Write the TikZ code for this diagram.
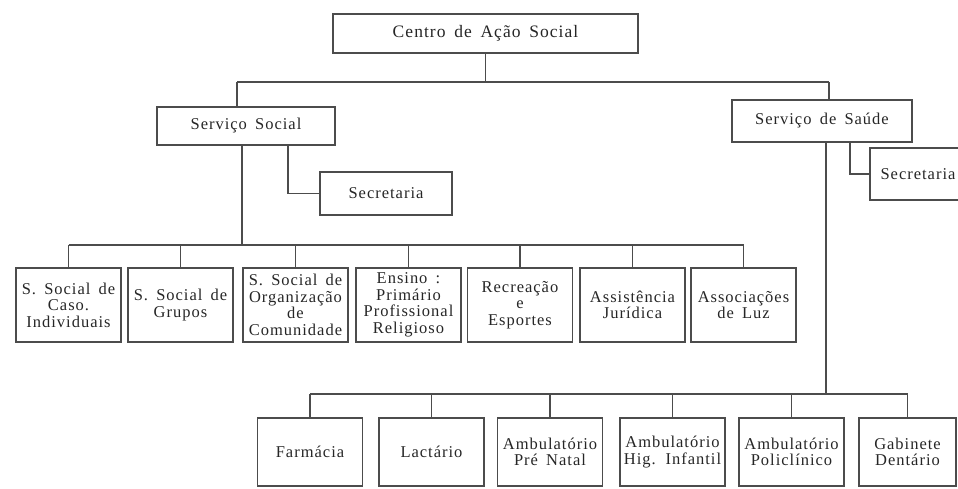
\documentclass[tikz,border=0pt]{standalone}
\usepackage{fontspec}
\setmainfont{Liberation Serif}[LetterSpace=6, WordSpace=1.6]
\begin{document}
\begin{tikzpicture}[x=1pt,y=-1pt,
  orgline/.style={draw=black!70, line width=1.1pt},
  orgbox/.style={orgline, align=center, inner sep=2pt, text=black!85,
    font=\fontsize{16.5}{16.5}\selectfont},
  rowa/.style={orgbox, minimum width=105pt, minimum height=74pt},
  rowb/.style={orgbox, minimum width=105pt, minimum height=68pt},
  conn/.style={orgline}]
\useasboundingbox (0,0) rectangle (958,488);

% boxes
\node[orgbox, minimum width=305pt, minimum height=39pt, font=\fontsize{17.5}{18}\selectfont] (top) at (485.5,33.5) {Centro de Ação Social};
\node[orgbox, minimum width=178pt, minimum height=38pt] (ss) at (246,126) {Serviço Social};
\node[orgbox, minimum width=132pt, minimum height=43pt] (sec1) at (386,193.5) {Secretaria};
\node[orgbox, minimum width=180pt, minimum height=42pt] (sau) at (822,121) {Serviço de Saúde};
\node[orgbox, minimum width=96pt, minimum height=52pt] (sec2) at (918,174) {Secretaria};

\node[rowa] (a1) at (68.5,305) {S. Social de\\Caso.\\Individuais};
\node[rowa] (a2) at (180.5,305) {S. Social de\\Grupos};
\node[rowa] (a3) at (295.5,305) {S. Social de\\Organização\\de\\Comunidade};
\node[rowa] (a4) at (408.5,305) {Ensino :\\Primário\\Profissional\\Religioso};
\node[rowa] (a5) at (520,305) {Recreação\\e\\Esportes};
\node[rowa] (a6) at (632.5,305) {Assistência\\Jurídica};
\node[rowa] (a7) at (743.5,305) {Associações\\de Luz};

\node[rowb] (c1) at (310,452) {Farmácia};
\node[rowb] (c2) at (431.5,452) {Lactário};
\node[rowb] (c3) at (550,452) {Ambulatório\\Pré Natal};
\node[rowb] (c4) at (672.5,452) {Ambulatório\\Hig. Infantil};
\node[rowb] (c5) at (791.5,452) {Ambulatório\\Policlínico};
\node[rowb, minimum width=97pt] (c6) at (907.5,452) {Gabinete\\Dentário};

% top level connectors
\coordinate (tl) at (237,82);
\coordinate (tr) at (829,82);
\draw[conn] (tl) -- (tr);
\draw[conn] (top.south) -- (top.south |- tl);
\draw[conn] (tl) -- (tl |- ss.north);
\draw[conn] (tr) -- (tr |- sau.north);

% secretarias
\draw[conn] ([xshift=42pt]ss.south) |- (sec1.west);
\draw[conn] ([xshift=28pt]sau.south) |- (sec2.west);

% servico social row
\coordinate (ra) at (0,245);
\draw[conn] ([xshift=-4pt]ss.south) -- ([xshift=-4pt]ss.south |- ra);
\draw[conn] (a1.north |- ra) -- (a7.north |- ra);
\foreach \n in {a1,a2,a3,a4,a5,a6,a7}
  \draw[conn] (\n.north |- ra) -- (\n.north);

% saude row
\coordinate (rb) at (0,394);
\draw[conn] ([xshift=4pt]sau.south) -- ([xshift=4pt]sau.south |- rb);
\draw[conn] (c1.north |- rb) -- (c6.north |- rb);
\foreach \n in {c1,c2,c3,c4,c5,c6}
  \draw[conn] (\n.north |- rb) -- (\n.north);
\end{tikzpicture}
\end{document}
